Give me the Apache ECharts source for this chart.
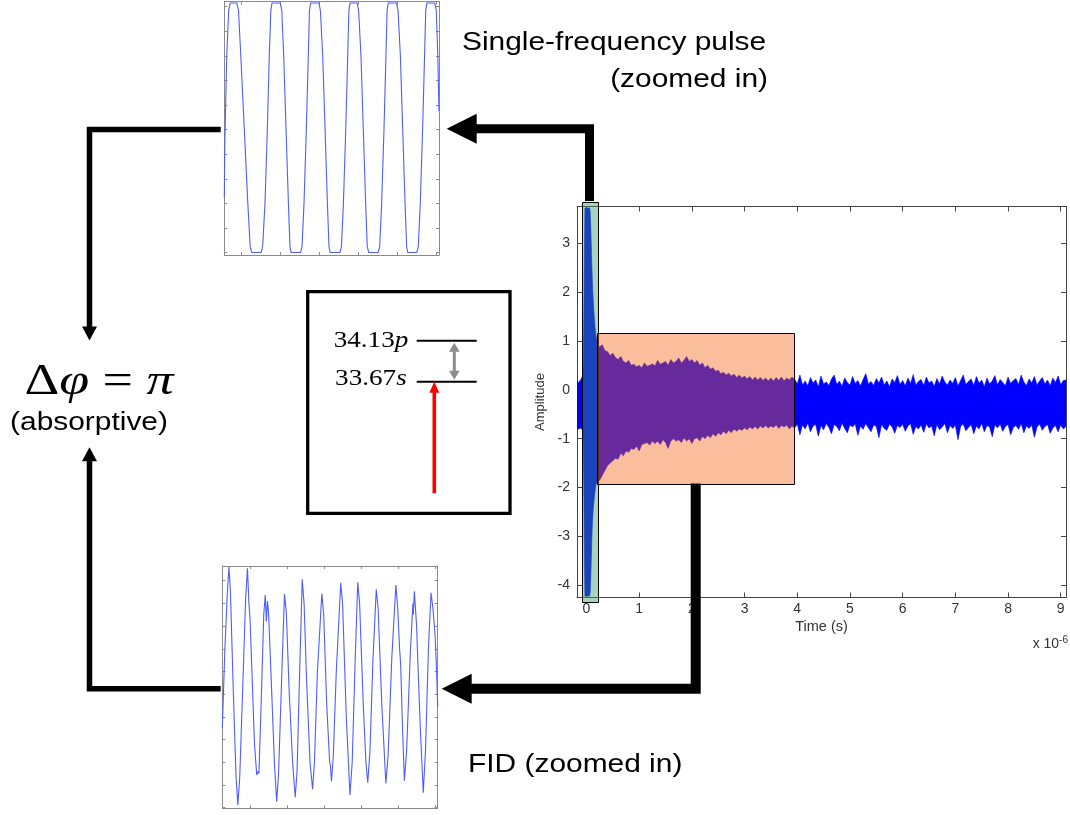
<!DOCTYPE html>
<html><head><meta charset="utf-8">
<script src="https://cdn.jsdelivr.net/npm/echarts@6/dist/echarts.min.js"></script>
<style>html,body{margin:0;padding:0;background:#fff}#c{width:1070px;height:815px}</style>
</head><body><div id="c"></div>
<script>
// ---------- data ----------
// main trace envelope (min / max) on sampling grids (time in units of 1e-6 s)
const preT0 = -0.20, preDt = 0.05;
const preHi = [0.18, 0.15, 0.22];
const preLo = [-0.82, -0.80, -0.78];
const pulseT0 = -0.07, pulseDt = 0.01;
const pulseHi = [0.3,0.6,1.5,2.8,3.72,3.72,3.72,3.72,3.72,3.72,3.72,3.72,3.72,3.72,
  3.65,3.4,3.0,2.6,2.3,2.0,1.8,1.6,1.45,1.3,1.2,1.1,1.05,1.0,0.95,0.9];
const pulseLo = [-0.85,-1.2,-2.0,-3.4,-4.22,-4.22,-4.22,-4.22,-4.22,-4.22,-4.22,-4.22,-4.22,-4.22,
  -4.15,-3.9,-3.5,-3.1,-2.8,-2.6,-2.4,-2.3,-2.2,-2.1,-2.0,-1.95,-1.92,-1.9,-1.88,-1.87];
const fidT0 = 0.25, fidDt = 0.05;
const fidHi = [0.88,0.92,0.80,0.78,0.70,0.75,0.66,0.62,0.68,0.58,
  0.55,0.60,0.50,0.52,0.47,0.50,0.45,0.55,0.48,0.50,
  0.53,0.49,0.60,0.52,0.55,0.58,0.50,0.62,0.55,0.58,
  0.65,0.55,0.60,0.68,0.58,0.62,0.55,0.60,0.50,0.55,
  0.45,0.50,0.42,0.45,0.38,0.40,0.33,0.36,0.30,0.34,
  0.28,0.32,0.25,0.30,0.24,0.28,0.22,0.27,0.20,0.26,
  0.20,0.25,0.19,0.24,0.18,0.24,0.18,0.25,0.19,0.26,
  0.18,0.24,0.20,0.26];
const fidLo = [-1.85,-1.75,-1.65,-1.55,-1.50,-1.45,-1.40,-1.42,-1.30,-1.35,
  -1.25,-1.28,-1.20,-1.22,-1.15,-1.25,-1.12,-1.10,-1.08,-1.13,
  -1.05,-1.10,-1.05,-1.12,-1.02,-1.08,-1.20,-1.05,-1.00,-1.05,
  -1.02,-1.08,-0.98,-1.05,-1.00,-1.10,-1.00,-0.98,-1.05,-0.95,
  -1.00,-0.93,-0.98,-0.90,-0.95,-0.88,-0.92,-0.85,-0.90,-0.83,
  -0.88,-0.80,-0.85,-0.80,-0.83,-0.78,-0.82,-0.76,-0.80,-0.75,
  -0.80,-0.74,-0.78,-0.73,-0.78,-0.74,-0.77,-0.72,-0.79,-0.73,
  -0.76,-0.72,-0.80,-0.74];
const noiseT0 = 3.95, noiseDt = 0.05;
const noiseHi = [0.22,0.12,0.30,0.10,0.18,0.08,0.25,0.14,0.20,0.06,
  0.28,0.12,0.16,0.09,0.22,0.30,0.11,0.18,0.07,0.24,
  0.15,0.10,0.27,0.13,0.19,0.08,0.21,0.33,0.12,0.17,
  0.09,0.23,0.14,0.26,0.10,0.18,0.06,0.22,0.15,0.29,
  0.11,0.19,0.08,0.24,0.13,0.31,0.10,0.17,0.21,0.09,
  0.26,0.14,0.18,0.07,0.23,0.12,0.28,0.16,0.10,0.20,
  0.13,0.25,0.08,0.19,0.30,0.11,0.17,0.22,0.09,0.27,
  0.14,0.20,0.06,0.24,0.12,0.18,0.29,0.10,0.21,0.15,
  0.08,0.26,0.13,0.19,0.23,0.11,0.30,0.16,0.09,0.22,
  0.14,0.27,0.10,0.18,0.25,0.12,0.20,0.08,0.24,0.15,
  0.28,0.11,0.19,0.20];
const noiseLo = [-0.78,-0.70,-0.92,-0.72,-0.80,-0.68,-0.86,-0.74,-0.71,-0.95,
  -0.73,-0.82,-0.69,-0.77,-0.90,-0.71,-0.75,-0.84,-0.68,-0.79,
  -0.88,-0.72,-0.76,-0.70,-0.93,-0.74,-0.81,-0.69,-0.78,-0.86,
  -0.72,-0.75,-0.98,-0.71,-0.79,-0.83,-0.70,-0.76,-0.89,-0.73,
  -0.77,-0.71,-0.85,-0.74,-0.69,-0.91,-0.75,-0.80,-0.72,-0.87,
  -0.70,-0.78,-0.74,-0.94,-0.71,-0.82,-0.76,-0.69,-0.88,-0.73,
  -0.79,-0.72,-1.02,-0.75,-0.70,-0.84,-0.77,-0.71,-0.90,-0.74,
  -0.80,-0.69,-0.86,-0.73,-0.76,-0.96,-0.72,-0.78,-0.70,-0.85,
  -0.75,-0.71,-0.92,-0.77,-0.73,-0.81,-0.69,-0.88,-0.74,-0.79,
  -0.72,-0.97,-0.76,-0.70,-0.83,-0.75,-0.71,-0.89,-0.78,-0.73,
  -0.86,-0.72,-0.80,-0.75];
// highlighted windows [t0, t1, ymin, ymax]
const pulseWindow = [-0.09, 0.22, -4.33, 3.85];
const fidWindow = [0.2, 3.94, -1.92, 1.16];
// zoomed-in traces [x, y]
const pulseZoom = [
[-0.443,-0.55],[-0.43,-0.1],[-0.38,0.6],[-0.33,0.97],[-0.29,1.03],
[-0.12,1.03],[-0.08,0.97],[-0.02,0.6],[0.07,0.0],[0.16,-0.6],[0.22,-0.95],[0.26,-1.0],
[0.50,-1.0],[0.54,-0.95],[0.6,-0.6],[0.66,0.0],[0.71,0.6],[0.75,0.97],[0.78,1.03],
[0.99,1.03],[1.03,0.97],[1.08,0.6],[1.14,0.0],[1.2,-0.6],[1.24,-0.95],[1.27,-1.0],
[1.51,-1.0],[1.55,-0.95],[1.6,-0.6],[1.66,0.0],[1.71,0.6],[1.74,0.97],[1.77,1.03],
[1.98,1.03],[2.02,0.97],[2.08,0.6],[2.14,0.0],[2.2,-0.6],[2.24,-0.95],[2.27,-1.0],
[2.52,-1.0],[2.56,-0.95],[2.61,-0.6],[2.67,0.0],[2.72,0.6],[2.75,0.97],[2.78,1.03],
[2.96,1.03],[3.0,0.97],[3.06,0.6],[3.12,0.0],[3.18,-0.6],[3.22,-0.95],[3.26,-1.0],
[3.5,-1.0],[3.54,-0.95],[3.59,-0.6],[3.65,0.0],[3.7,0.6],[3.73,0.97],[3.76,1.03],
[3.97,1.03],[4.01,0.97],[4.07,0.6],[4.13,0.0],[4.19,-0.6],[4.23,-0.95],[4.26,-1.0],
[4.49,-1.0],[4.53,-0.95],[4.58,-0.6],[4.64,0.0],[4.69,0.6],[4.72,0.97],[4.75,1.03],
[4.95,1.03],[4.99,0.97],[5.03,0.6],[5.06,0.15]];
const fidZoom = [
[-0.75,3.5],[-0.68,7.0],[-0.61,9.6],[-0.57,10.6],[-0.53,9.5],[-0.45,5.0],[-0.38,1.4],[-0.33,0.12],
[-0.28,1.3],[-0.2,5.2],[-0.12,9.2],[-0.07,10.55],[-0.03,9.0],[0.0,8.3],[0.04,6.5],[0.12,2.8],
[0.18,1.44],[0.22,1.6],[0.24,1.5],[0.3,4.6],[0.37,8.5],[0.41,9.37],[0.44,8.2],[0.47,9.1],[0.5,8.6],
[0.58,5.3],[0.66,1.9],[0.72,0.26],[0.77,1.5],[0.85,5.5],[0.93,9.41],[0.98,8.6],[1.06,5.0],[1.15,2.0],
[1.22,0.46],[1.27,1.6],[1.34,6.0],[1.41,10.06],[1.46,9.0],[1.53,5.5],[1.62,2.0],[1.69,0.81],
[1.74,2.0],[1.82,6.0],[1.94,9.44],[1.99,8.5],[2.07,4.6],[2.15,2.0],[2.17,1.9],[2.20,1.15],
[2.25,2.3],[2.33,6.0],[2.45,9.91],[2.5,9.0],[2.6,4.0],[2.7,0.56],[2.76,2.0],[2.84,6.5],[2.91,9.93],
[2.96,9.0],[3.06,4.5],[3.13,2.0],[3.18,1.10],[3.24,2.5],[3.32,6.5],[3.41,9.62],[3.46,8.8],[3.56,4.5],
[3.67,1.07],[3.73,2.3],[3.83,6.6],[3.94,9.81],[3.99,8.8],[4.04,7.0],[4.07,6.3],[4.12,3.5],[4.17,1.19],
[4.23,2.5],[4.33,6.8],[4.4,9.0],[4.41,8.5],[4.44,9.54],[4.5,8.0],[4.55,5.7],[4.6,3.5],[4.68,0.66],
[4.74,2.5],[4.82,7.0],[4.89,9.47],[4.94,8.8],[5.0,7.6],[5.04,6.0],[5.07,4.45]];
// energy levels
const levelValues = ['34.13', '33.67'];
const levelOrbitals = ['p', 's'];

// ---------- build ----------
function segment(t0, dt, hi, lo) { return hi.map((h, i) => [+(t0 + i * dt).toFixed(4), lo[i], h]); }
const sigData = [].concat(
  segment(preT0, preDt, preHi, preLo),
  segment(pulseT0, pulseDt, pulseHi, pulseLo),
  segment(fidT0, fidDt, fidHi, fidLo),
  segment(noiseT0, noiseDt, noiseHi, noiseLo));

const chart = echarts.init(document.getElementById('c'), null, {renderer: 'canvas'});
const SANS = '"Liberation Sans", Arial, sans-serif';
const SERIF = '"Liberation Serif", "Times New Roman", serif';

function frameAxis(o) {
  return Object.assign({
    type: 'value', splitLine: {show: false},
    axisLine: {show: true, onZero: false, lineStyle: {color: '#444', width: 1}},
    axisTick: {show: true, inside: true, length: 5, lineStyle: {color: '#444'}},
    axisLabel: {show: false}
  }, o);
}
function insetAxis(o) {
  return Object.assign({
    type: 'value', splitLine: {show: false},
    axisLine: {show: true, onZero: false, lineStyle: {color: '#8a8a8a', width: 1}},
    axisTick: {show: true, inside: true, length: 3, lineStyle: {color: '#8a8a8a'}},
    axisLabel: {show: false}
  }, o);
}
const mainLabel = {show: true, fontSize: 14, color: '#333', fontFamily: SANS, showMinLabel: false, showMaxLabel: false};

function arrowHead(tip, dir, len, half) {
  const [x, y] = tip;
  if (dir === 'left') return [[x, y], [x + len, y - half], [x + len, y + half]];
  if (dir === 'up') return [[x, y], [x - half, y + len], [x + half, y + len]];
  return [[x, y], [x - half, y - len], [x + half, y - len]];
}
const blk = {stroke: '#000', fill: null, lineJoin: 'miter', lineCap: 'butt'};

const option = {
  animation: false,
  backgroundColor: '#fff',
  grid: [
    {left: 577, top: 206.5, width: 489, height: 391, outerBoundsMode: 'none'},
    {left: 224.3, top: 1.7, width: 214.7, height: 253.3, outerBoundsMode: 'none'},
    {left: 222.3, top: 566, width: 215.4, height: 242.3, outerBoundsMode: 'none'}
  ],
  xAxis: [
    frameAxis({gridIndex: 0, position: 'bottom', min: -0.18, max: 9.1, splitNumber: 9,
      axisLabel: Object.assign({margin: 5}, mainLabel),
      name: 'Time (s)', nameLocation: 'middle', nameGap: 22,
      nameTextStyle: {fontSize: 14.5, color: '#333', fontFamily: SANS}}),
    frameAxis({gridIndex: 0, position: 'top', min: -0.18, max: 9.1, splitNumber: 9}),
    insetAxis({gridIndex: 1, position: 'bottom', min: -0.443, max: 5.06, splitNumber: 5}),
    insetAxis({gridIndex: 1, position: 'top', min: -0.443, max: 5.06, splitNumber: 5}),
    insetAxis({gridIndex: 2, position: 'bottom', min: -0.75, max: 5.07, splitNumber: 5}),
    insetAxis({gridIndex: 2, position: 'top', min: -0.75, max: 5.07, splitNumber: 5})
  ],
  yAxis: [
    frameAxis({gridIndex: 0, position: 'left', min: -4.25, max: 3.75, splitNumber: 8,
      axisLabel: Object.assign({margin: 7}, mainLabel),
      name: 'Amplitude', nameLocation: 'middle', nameGap: 30, nameRotate: 90,
      nameTextStyle: {fontSize: 13, color: '#333', fontFamily: SANS}}),
    frameAxis({gridIndex: 0, position: 'right', min: -4.25, max: 3.75, splitNumber: 8}),
    insetAxis({gridIndex: 1, position: 'left', min: -1.02, max: 1.04, splitNumber: 10}),
    insetAxis({gridIndex: 1, position: 'right', min: -1.02, max: 1.04, splitNumber: 10}),
    insetAxis({gridIndex: 2, position: 'left', min: -0.03, max: 10.65, splitNumber: 10}),
    insetAxis({gridIndex: 2, position: 'right', min: -0.03, max: 10.65, splitNumber: 10})
  ],
  series: [
    {
      type: 'custom', xAxisIndex: 0, yAxisIndex: 0, z: 2, clip: true,
      data: sigData,
      renderItem: function (params, api) {
        if (params.dataIndex !== 0) return null;
        const pts = [];
        for (let i = 0; i < sigData.length; i++) pts.push(api.coord([sigData[i][0], sigData[i][2]]));
        for (let i = sigData.length - 1; i >= 0; i--) pts.push(api.coord([sigData[i][0], sigData[i][1]]));
        return {type: 'polygon', shape: {points: pts}, style: {fill: '#0000ff', stroke: '#0000ff', lineWidth: 0.6}};
      }
    },
    {
      type: 'custom', xAxisIndex: 0, yAxisIndex: 0, z: 3, clip: false,
      data: [pulseWindow.concat([0]), fidWindow.concat([1])],
      renderItem: function (params, api) {
        const p1 = api.coord([api.value(0), api.value(3)]);
        const p2 = api.coord([api.value(1), api.value(2)]);
        const fill = api.value(4) === 0 ? 'rgba(59,154,102,0.44)' : 'rgba(245,100,20,0.42)';
        return {type: 'rect', shape: {x: Math.round(p1[0]) + 0.5, y: Math.round(p1[1]) + 0.5,
          width: Math.round(p2[0] - p1[0]), height: Math.round(p2[1] - p1[1])},
          style: {fill: fill, stroke: '#000', lineWidth: 1}};
      }
    },
    {
      type: 'line', xAxisIndex: 2, yAxisIndex: 2, data: pulseZoom, showSymbol: false, symbol: 'none',
      lineStyle: {color: '#4f5cff', width: 1.1}, silent: true
    },
    {
      type: 'line', xAxisIndex: 4, yAxisIndex: 4, data: fidZoom, showSymbol: false, symbol: 'none',
      lineStyle: {color: '#4f5cff', width: 1.1}, silent: true
    }
  ],
  graphic: [
    {type: 'polyline', z: 100, shape: {points: [[589.5, 201], [589.5, 128.7], [475, 128.7]]}, style: Object.assign({lineWidth: 9}, blk)},
    {type: 'polygon', z: 100, shape: {points: arrowHead([446.7, 128.7], 'left', 30, 15)}, style: {fill: '#000'}},
    {type: 'polyline', z: 100, shape: {points: [[695.7, 483.5], [695.7, 688.7], [470, 688.7]]}, style: Object.assign({lineWidth: 10}, blk)},
    {type: 'polygon', z: 100, shape: {points: arrowHead([441.7, 688.7], 'left', 30, 15)}, style: {fill: '#000'}},
    {type: 'polyline', z: 100, shape: {points: [[220.7, 129.5], [89.5, 129.5], [89.5, 328]]}, style: Object.assign({lineWidth: 5.5}, blk)},
    {type: 'polygon', z: 100, shape: {points: arrowHead([89.5, 340.5], 'down', 14, 7.5)}, style: {fill: '#000'}},
    {type: 'polyline', z: 100, shape: {points: [[220.7, 688.8], [89.5, 688.8], [89.5, 460]]}, style: Object.assign({lineWidth: 5.5}, blk)},
    {type: 'polygon', z: 100, shape: {points: arrowHead([89.5, 447.3], 'up', 14, 7.5)}, style: {fill: '#000'}},
    {type: 'rect', z: 100, shape: {x: 307.7, y: 291.7, width: 202.3, height: 221.6}, style: {stroke: '#000', fill: '#fff', lineWidth: 3.3}},
    {type: 'line', z: 101, shape: {x1: 416.7, y1: 340.7, x2: 476.7, y2: 340.7}, style: {stroke: '#000', lineWidth: 2}},
    {type: 'line', z: 101, shape: {x1: 416.7, y1: 381.7, x2: 476.7, y2: 381.7}, style: {stroke: '#000', lineWidth: 2}},
    {type: 'line', z: 101, shape: {x1: 454.3, y1: 349, x2: 454.3, y2: 373}, style: {stroke: '#8c8c8c', lineWidth: 3}},
    {type: 'polygon', z: 101, shape: {points: arrowHead([454.3, 342.7], 'up', 9, 5.3)}, style: {fill: '#8c8c8c'}},
    {type: 'polygon', z: 101, shape: {points: arrowHead([454.3, 379.7], 'down', 9, 5.3)}, style: {fill: '#8c8c8c'}},
    {type: 'line', z: 101, shape: {x1: 434.3, y1: 493.3, x2: 434.3, y2: 391}, style: {stroke: '#ff0000', lineWidth: 3.6}},
    {type: 'polygon', z: 101, shape: {points: arrowHead([434.3, 381.7], 'up', 11, 5)}, style: {fill: '#ff0000'}},
    {type: 'text', z: 101, x: 408.3, y: 341, scaleX: 1.18, style: {
      text: '{n|' + levelValues[0] + '}{i|' + levelOrbitals[0] + '}', align: 'right', verticalAlign: 'middle',
      rich: {n: {fontSize: 23, fontFamily: SERIF, fill: '#000'}, i: {fontSize: 23, fontFamily: SERIF, fontStyle: 'italic', fill: '#000'}}}},
    {type: 'text', z: 101, x: 406.7, y: 378.5, scaleX: 1.18, style: {
      text: '{n|' + levelValues[1] + '}{i|' + levelOrbitals[1] + '}', align: 'right', verticalAlign: 'middle',
      rich: {n: {fontSize: 23, fontFamily: SERIF, fill: '#000'}, i: {fontSize: 23, fontFamily: SERIF, fontStyle: 'italic', fill: '#000'}}}},
    {type: 'text', z: 101, x: 462, y: 43, scaleX: 1.15, style: {text: 'Single-frequency pulse', fontSize: 26, fontFamily: SANS, fill: '#000', align: 'left', verticalAlign: 'middle'}},
    {type: 'text', z: 101, x: 768, y: 80, scaleX: 1.15, style: {text: '(zoomed in)', fontSize: 26, fontFamily: SANS, fill: '#000', align: 'right', verticalAlign: 'middle'}},
    {type: 'text', z: 101, x: 468, y: 765, scaleX: 1.15, style: {text: 'FID (zoomed in)', fontSize: 26, fontFamily: SANS, fill: '#000', align: 'left', verticalAlign: 'middle'}},
    {type: 'text', z: 101, x: 89, y: 423, scaleX: 1.15, style: {text: '(absorptive)', fontSize: 26, fontFamily: SANS, fill: '#000', align: 'center', verticalAlign: 'middle'}},
    {type: 'text', z: 101, x: 99, y: 382, scaleX: 1.2, style: {
      text: '{a|Δ}{b|φ}{a| = }{b|π}', align: 'center', verticalAlign: 'middle',
      rich: {a: {fontSize: 45, fontFamily: SERIF, fill: '#000'}, b: {fontSize: 45, fontFamily: SERIF, fontStyle: 'italic', fill: '#000'}}}},
    {type: 'text', z: 101, x: 1068, y: 654, style: {
      text: '{a|x 10}{b|-6}', align: 'right', verticalAlign: 'bottom',
      rich: {a: {fontSize: 14, fontFamily: SANS, fill: '#333'}, b: {fontSize: 10, fontFamily: SANS, fill: '#333', verticalAlign: 'top', padding: [0, 0, 9, 0]}}}}
  ]
};
chart.setOption(option);
</script>
</body></html>
